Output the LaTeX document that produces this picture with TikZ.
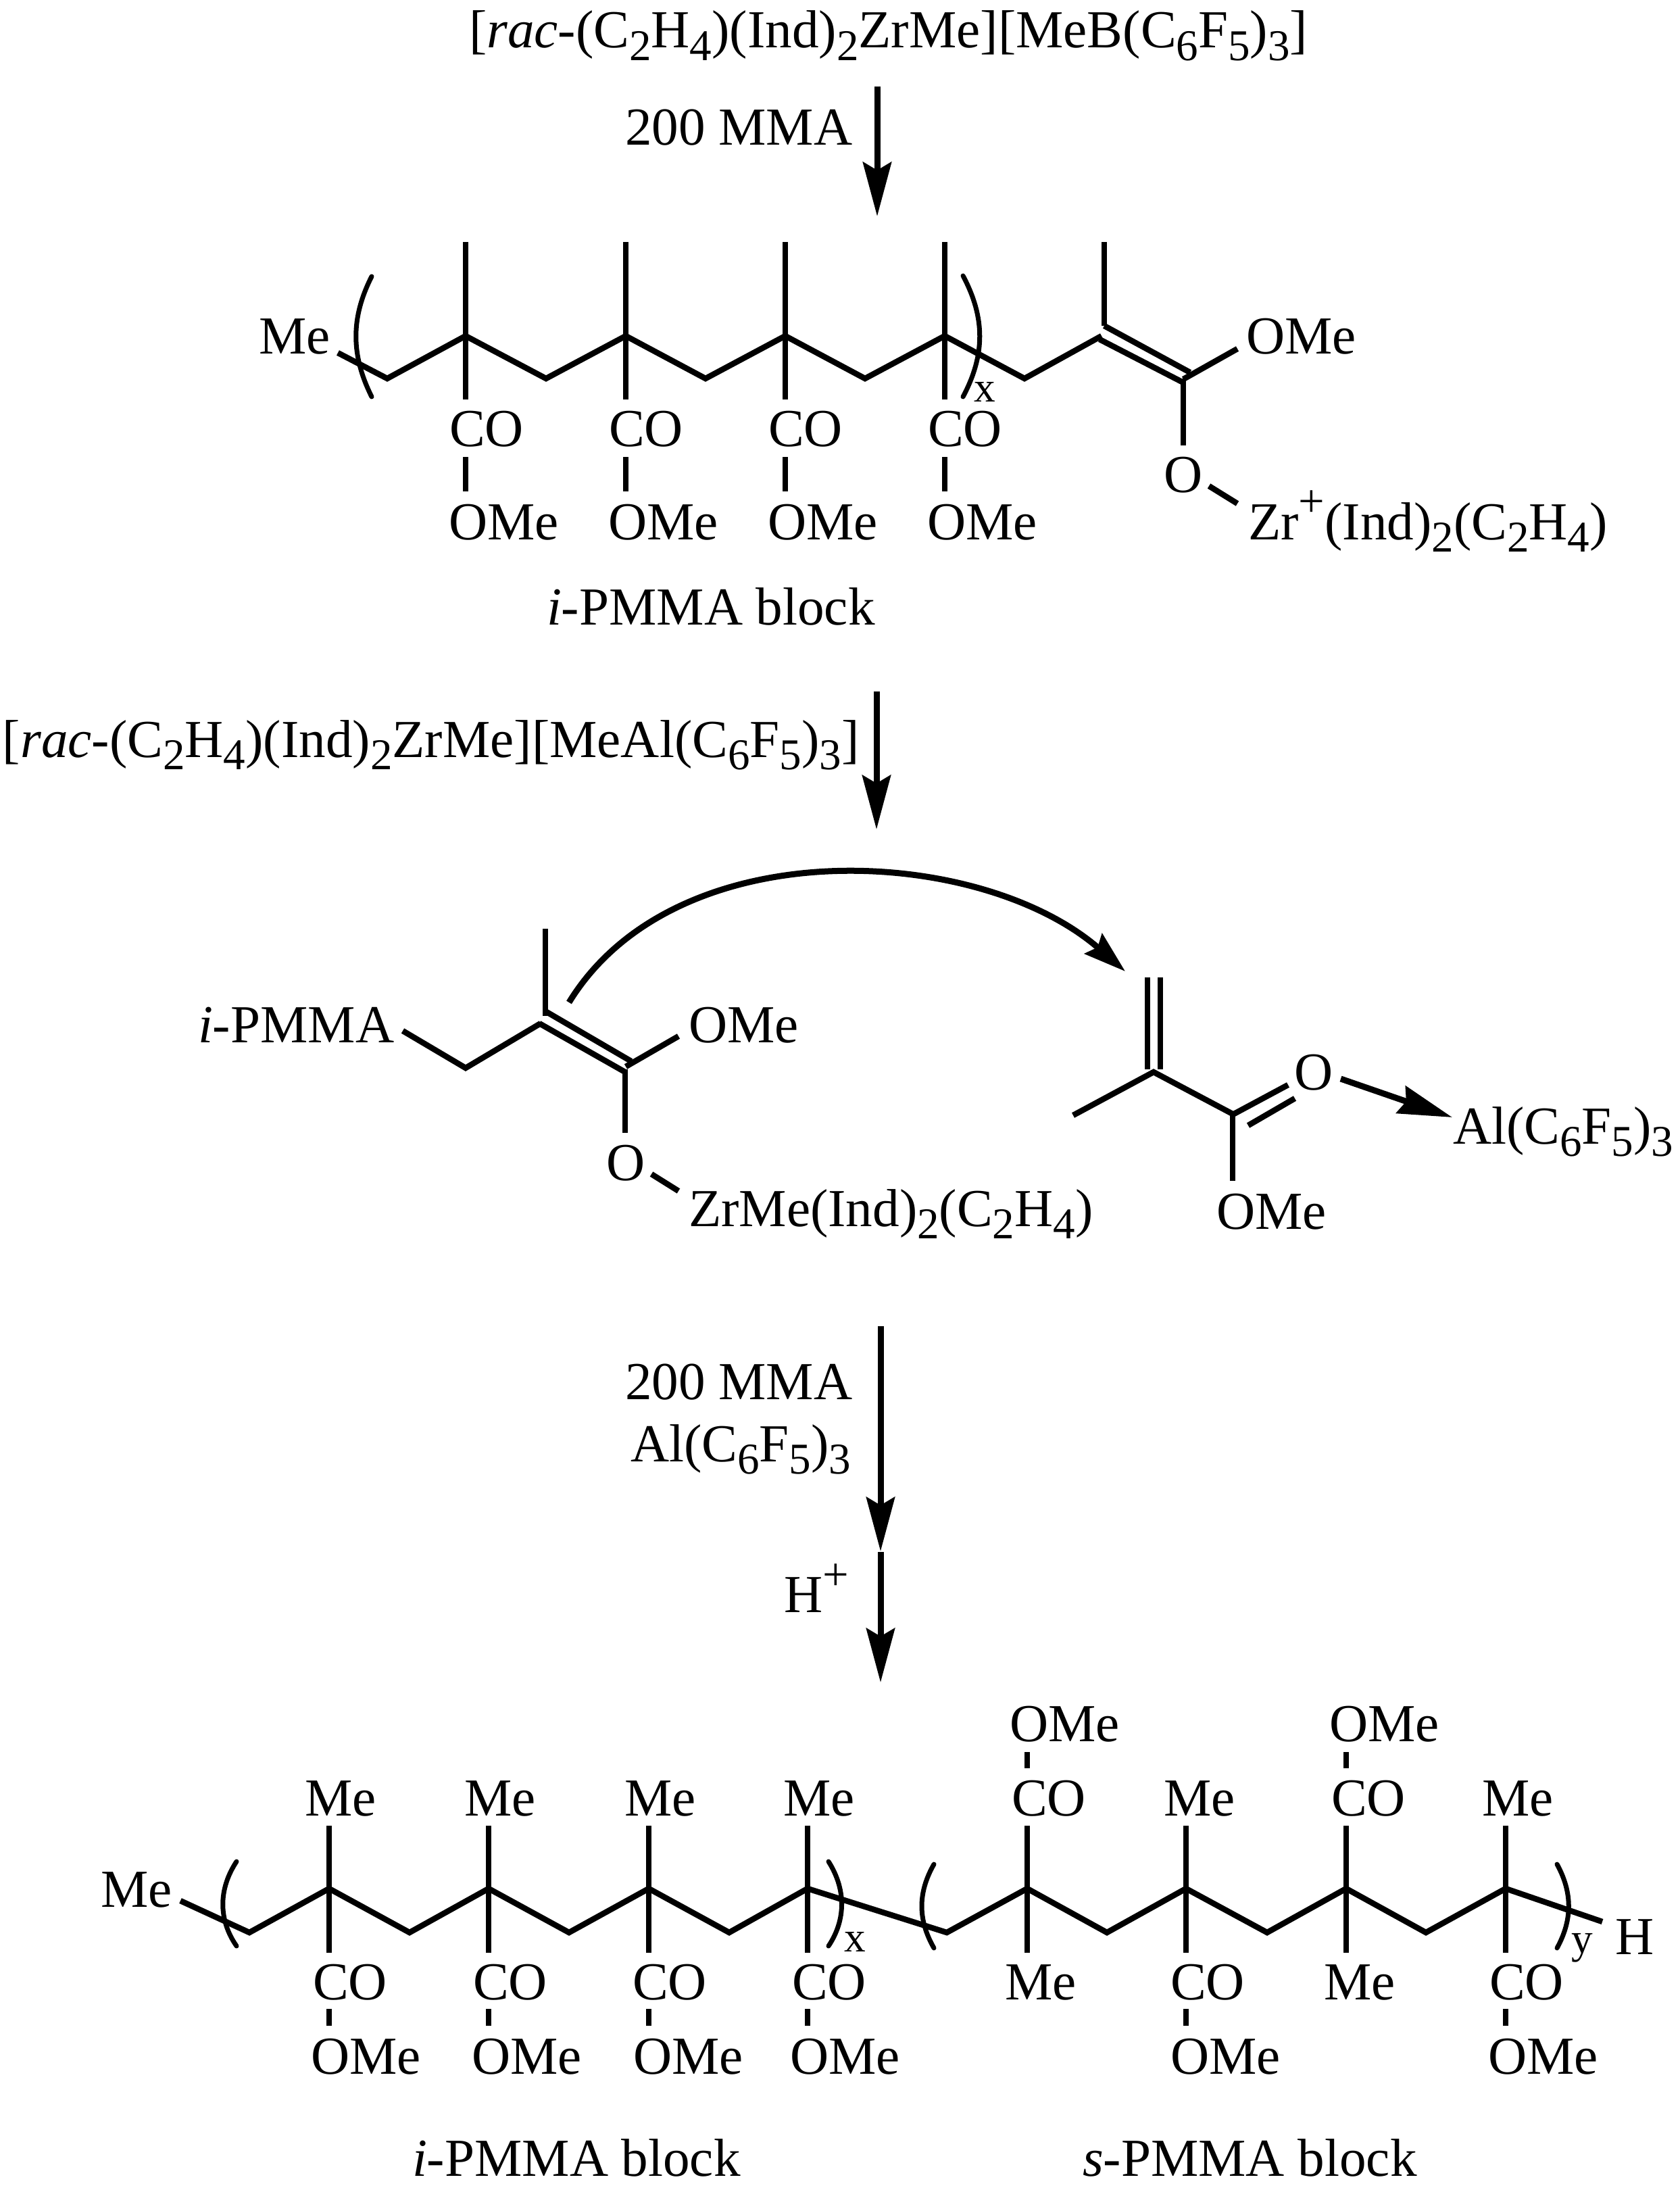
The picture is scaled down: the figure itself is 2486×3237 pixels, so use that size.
\documentclass[tikz,border=0pt]{standalone}
\usepackage{fontspec}
\setmainfont{Liberation Serif}
\usetikzlibrary{arrows.meta}
\newcommand{\sbs}[1]{\raisebox{-0.18cm}{\fontsize{18.5}{18.5}\selectfont #1}}
\newcommand{\sps}[1]{\raisebox{0.33cm}{\fontsize{19.5}{19.5}\selectfont #1}}
\tikzset{
  lab/.style={anchor=base west,inner sep=0pt,outer sep=0pt,font=\fontsize{22.5}{27}\selectfont},
  idx/.style={anchor=base west,inner sep=0pt,outer sep=0pt,font=\fontsize{18}{18}\selectfont},
  bond/.style={line width=0.085cm,line cap=butt,line join=miter},
  paren/.style={line width=0.07cm,line cap=round},
  rxn/.style={line width=0.09cm,-{Stealth[length=0.8cm,width=0.42cm,inset=0.12cm]}},
  curvearrow/.style={line width=0.09cm,-{Stealth[length=0.62cm,width=0.39cm,inset=0.08cm]}},
}
\begin{document}
\begin{tikzpicture}[x=0.01cm,y=-0.01cm]
\useasboundingbox (0,0) rectangle (2486,3237);
% ---------- top text and first arrow
\node[lab] (t1) at (694,71) {[\textit{rac}-(C\sbs{2}H\sbs{4})(Ind)\sbs{2}ZrMe][MeB(C\sbs{6}F\sbs{5})\sbs{3}]};
\node[lab] (t2) at (925,215) {200 MMA};
\coordinate (ar1a) at (1298,128); \coordinate (ar1b) at (1298,320);
\draw[rxn] (ar1a) -- (ar1b);
% ---------- structure 1
\foreach \n/\x/\y in {a0/500/522,v1/573/560,p1/689/497,v2/808/560,p2/926/497,v3/1044/560,p3/1162/497,v4/1280/560,p4/1398/497,v5/1516/560,p5/1630/497}
  \coordinate (\n) at (\x,\y);
\draw[bond] (a0)--(v1)--(p1)--(v2)--(p2)--(v3)--(p3)--(v4)--(p4)--(v5)--(p5);
\foreach \n/\x in {1/689,2/926,3/1162,4/1398}{
  \coordinate (st\n) at (\x,358); \coordinate (sb\n) at (\x,591);
  \coordinate (ct\n) at (\x,676); \coordinate (cb\n) at (\x,727);
  \draw[bond] (st\n)--(sb\n);
  \draw[bond] (ct\n)--(cb\n);
}
\foreach \n/\x in {1/665,2/901,3/1137,4/1373}{
  \node[lab] (co\n) at (\x,660) {CO};
}
\foreach \n/\x in {1/664,2/900,3/1136,4/1372}{
  \node[lab] (om\n) at (\x,798) {OMe};
}
\node[lab] (me1) at (383,524) {Me};
\node[lab] (blk1) at (809,924) {\textit{i}-PMMA block};
\coordinate (pl1) at (550,409); \coordinate (pl2) at (550,587);
\draw[paren] (pl1) .. controls (519,470) and (519,525) .. (pl2);
\coordinate (pr1) at (1425,408); \coordinate (pr2) at (1425,587);
\draw[paren] (pr1) .. controls (1458,470) and (1458,525) .. (pr2);
\node[idx] (xa) at (1441,595) {x};
\coordinate (m1) at (1634,358); \coordinate (m2) at (1634,482);
\draw[bond] (m1)--(m2);
\coordinate (db1a) at (1634,482); \coordinate (db1b) at (1761,551);
\coordinate (db2a) at (1627,502); \coordinate (db2b) at (1751,566);
\draw[bond] (db1a)--(db1b);
\draw[bond] (db2a)--(db2b);
\coordinate (c1a) at (1751,560); \coordinate (c1b) at (1751,659);
\draw[bond] (c1a)--(c1b);
\coordinate (c1c) at (1751,561); \coordinate (c1d) at (1831,516);
\draw[bond] (c1c)--(c1d);
\node[lab] (ome1) at (1844,524) {OMe};
\node[lab,anchor=base] (o1) at (1751,728) {O};
\coordinate (oz1) at (1789,719); \coordinate (oz2) at (1831,745);
\draw[bond] (oz1)--(oz2);
\node[lab] (zr1) at (1847,798) {Zr\sps{+}(Ind)\sbs{2}(C\sbs{2}H\sbs{4})};
% ---------- second arrow
\node[lab] (t3) at (4,1120) {[\textit{rac}-(C\sbs{2}H\sbs{4})(Ind)\sbs{2}ZrMe][MeAl(C\sbs{6}F\sbs{5})\sbs{3}]};
\coordinate (ar2a) at (1297,1023); \coordinate (ar2b) at (1297,1227);
\draw[rxn] (ar2a) -- (ar2b);
% ---------- structure 2
\node[lab] (ip) at (293,1542) {\textit{i}-PMMA};
\coordinate (b0) at (596,1525); \coordinate (b1) at (689,1580); \coordinate (b2) at (800,1514);
\draw[bond] (b0)--(b1)--(b2);
\coordinate (m3) at (807,1374); \coordinate (m4) at (807,1503);
\draw[bond] (m3)--(m4);
\coordinate (d1a) at (807,1496); \coordinate (d1b) at (934,1570);
\coordinate (d2a) at (798,1514); \coordinate (d2b) at (925,1586);
\draw[bond] (d1a)--(d1b);
\draw[bond] (d2a)--(d2b);
\coordinate (c2a) at (925,1582); \coordinate (c2b) at (925,1676);
\draw[bond] (c2a)--(c2b);
\coordinate (c2c) at (926,1578); \coordinate (c2d) at (1004,1533);
\draw[bond] (c2c)--(c2d);
\node[lab] (ome2) at (1019,1542) {OMe};
\node[lab,anchor=base] (o2) at (926,1746) {O};
\coordinate (oz3) at (964,1737); \coordinate (oz4) at (1004,1762);
\draw[bond] (oz3)--(oz4);
\node[lab] (zr2) at (1019,1814) {ZrMe(Ind)\sbs{2}(C\sbs{2}H\sbs{4})};
\coordinate (cv1) at (842,1483); \coordinate (cv2) at (1665,1437);
\draw[curvearrow] (cv1) .. controls (1000,1225) and (1450,1250) .. (cv2);
% ---------- monomer
\coordinate (e1a) at (1698,1446); \coordinate (e1b) at (1698,1582);
\coordinate (e2a) at (1717,1446); \coordinate (e2b) at (1717,1582);
\draw[bond] (e1a)--(e1b);
\draw[bond] (e2a)--(e2b);
\coordinate (f0) at (1588,1650); \coordinate (f1) at (1707,1586); \coordinate (f2) at (1824,1648);
\draw[bond] (f0)--(f1)--(f2);
\coordinate (f3) at (1824,1645); \coordinate (f4) at (1824,1747);
\draw[bond] (f3)--(f4);
\node[lab] (ome3) at (1800,1818) {OMe};
\coordinate (g1a) at (1824,1649); \coordinate (g1b) at (1906,1605);
\coordinate (g2a) at (1847,1665); \coordinate (g2b) at (1916,1625);
\draw[bond] (g1a)--(g1b);
\draw[bond] (g2a)--(g2b);
\node[lab,anchor=base] (o3) at (1944,1612) {O};
\coordinate (al1) at (1984,1596); \coordinate (al2) at (2149,1653);
\draw[line width=0.09cm,-{Stealth[length=0.8cm,width=0.42cm,inset=0.08cm]}] (al1)--(al2);
\node[lab] (al) at (2150,1692) {Al(C\sbs{6}F\sbs{5})\sbs{3}};
% ---------- third and fourth arrows
\node[lab] (t4) at (925,2070) {200 MMA};
\node[lab] (t5) at (933,2162) {Al(C\sbs{6}F\sbs{5})\sbs{3}};
\coordinate (ar3a) at (1303,1962); \coordinate (ar3b) at (1303,2295);
\draw[rxn] (ar3a) -- (ar3b);
\node[lab] (t6) at (1160,2385) {H\sps{+}};
\coordinate (ar4a) at (1303,2296); \coordinate (ar4b) at (1303,2489);
\draw[rxn] (ar4a) -- (ar4b);
% ---------- structure 3
\foreach \n/\x/\y in {h0/267/2812,h1/369/2859,h2/487/2794,h3/606/2859,h4/723/2794,h5/842/2859,h6/960/2794,h7/1079/2859,h8/1195/2794,h9/1401/2859,h10/1520/2794,h11/1638/2859,h12/1755/2794,h13/1875/2859,h14/1992/2794,h15/2110/2859,h16/2228/2794,h17/2371/2843}
  \coordinate (\n) at (\x,\y);
\draw[bond] (h0)--(h1)--(h2)--(h3)--(h4)--(h5)--(h6)--(h7)--(h8)--(h9)--(h10)--(h11)--(h12)--(h13)--(h14)--(h15)--(h16)--(h17);
\foreach \n/\x in {1/487,2/723,3/960,4/1195,5/1520,6/1755,7/1992,8/2228}{
  \coordinate (vt\n) at (\x,2701); \coordinate (vb\n) at (\x,2889);
  \draw[bond] (vt\n)--(vb\n);
}
% lower short bonds
\foreach \n/\x in {1/487,2/723,3/960,4/1195,6/1755,8/2228}{
  \coordinate (lt\n) at (\x,2972); \coordinate (lb\n) at (\x,2997);
  \draw[bond] (lt\n)--(lb\n);
}
% upper short bonds
\foreach \n/\x in {5/1520,7/1992}{
  \coordinate (ut\n) at (\x,2592); \coordinate (ub\n) at (\x,2616);
  \draw[bond] (ut\n)--(ub\n);
}
\node[lab] (me0) at (149,2821) {Me};
\foreach \n/\x in {1/451,2/687,3/924,4/1159,6/1722,8/2193}{
  \node[lab] (mt\n) at (\x,2686) {Me};
}
\foreach \n/\x in {5/1497,7/1970}{
  \node[lab] (cot\n) at (\x,2686) {CO};
  \node[lab] (omt\n) at (\x-3,2576) {OMe};
}
\foreach \n/\x in {1/463,2/700,3/936,4/1172,6/1732,8/2204}{
  \node[lab] (cob\n) at (\x,2958) {CO};
}
\foreach \n/\x in {1/460,2/698,3/937,4/1169,6/1732,8/2202}{
  \node[lab] (omb\n) at (\x,3068) {OMe};
}
\foreach \n/\x in {5/1487,7/1959}{
  \node[lab] (mb\n) at (\x,2958) {Me};
}
\coordinate (q1) at (350,2754); \coordinate (q2) at (350,2879);
\draw[paren] (q1) .. controls (323,2795) and (323,2840) .. (q2);
\coordinate (q3) at (1226,2754); \coordinate (q4) at (1226,2879);
\draw[paren] (q3) .. controls (1252,2795) and (1252,2840) .. (q4);
\coordinate (q5) at (1382,2758); \coordinate (q6) at (1382,2882);
\draw[paren] (q5) .. controls (1358,2800) and (1358,2840) .. (q6);
\coordinate (q7) at (2304,2758); \coordinate (q8) at (2304,2882);
\draw[paren] (q7) .. controls (2327,2800) and (2327,2840) .. (q8);
\node[idx] (xb) at (1249,2887) {x};
\node[idx] (yb) at (2325,2889) {y};
\node[lab] (hb) at (2390,2891) {H};
\node[lab] (blk2) at (610,3219) {\textit{i}-PMMA block};
\node[lab] (blk3) at (1602,3219) {\textit{s}-PMMA block};
\end{tikzpicture}
\end{document}
